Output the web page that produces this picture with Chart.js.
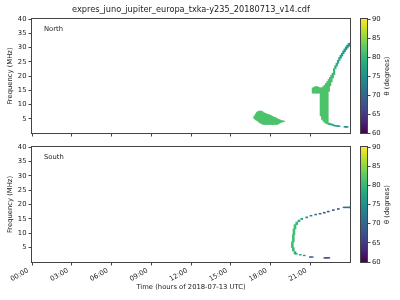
<!DOCTYPE html>
<html>
<head>
<meta charset="utf-8">
<script src="https://cdn.jsdelivr.net/npm/chart.js@4"></script>
<style>
  body { margin: 0; background: #fff; }
  #wrap { position: relative; width: 400px; height: 300px; }
  .box { position: absolute; }
</style>
</head>
<body>
<div id="wrap">
  <div class="box" style="left:0;top:0;width:352px;height:140px"><canvas id="north"></canvas></div>
  <div class="box" style="left:352px;top:0;width:48px;height:140px"><canvas id="northBar"></canvas></div>
  <div class="box" style="left:0;top:140px;width:352px;height:160px"><canvas id="south"></canvas></div>
  <div class="box" style="left:352px;top:140px;width:48px;height:160px"><canvas id="southBar"></canvas></div>
</div>
<script>
// axis ticks
const tickHours = [0, 3, 6, 9, 12, 15, 18, 21];
const tickLabels = ['00:00', '03:00', '06:00', '09:00', '12:00', '15:00', '18:00', '21:00'];
const freqTicks = [5, 10, 15, 20, 25, 30, 35, 40];
const thetaTicks = [60, 65, 70, 75, 80, 85, 90];

// North hemisphere emission: time column (h), freq range (MHz), theta (deg)
const northHour = [
  16.8, 16.9, 17.0, 17.1, 17.2, 17.3, 17.4, 17.5, 17.6, 17.7, 17.8, 17.9,
  18.0, 18.1, 18.2, 18.3, 18.4, 18.5, 18.6, 18.7, 18.8, 18.9, 19.0,
  21.2, 21.3, 21.4, 21.5, 21.6, 21.7, 21.8, 21.9, 22.0, 22.1, 22.2, 22.3,
  22.4, 22.4, 22.5, 22.5, 22.6, 22.6, 22.7, 22.7, 22.8, 22.8, 22.9, 22.9,
  23.0, 23.0, 23.1, 23.1, 23.2, 23.2,
  23.3, 23.4, 23.5, 23.6, 23.6, 23.7, 23.7, 23.8, 23.8, 23.9, 24.0];
const northLow = [
  5.0, 4.6, 4.4, 4.0, 3.6, 3.4, 3.1, 3.0, 3.0, 3.0, 3.0, 3.0,
  3.0, 3.0, 3.0, 3.0, 3.0, 3.05, 3.2, 3.6, 3.7, 3.9, 4.0,
  14.0, 14.0, 14.0, 14.0, 14.0, 14.0, 6.0, 4.8, 4.2, 3.7, 3.4, 3.2,
  14.6, 3.0, 16.6, 2.9, 17.9, 2.8, 19.3, 2.7, 20.5, 2.5, 22.6, 2.4,
  23.5, 2.4, 24.5, 2.3, 25.5, 2.3,
  26.3, 27.0, 27.8, 28.5, 2.0, 29.2, 2.0, 29.8, 2.0, 30.4, 30.9];
const northHigh = [
  6.0, 6.7, 7.3, 7.6, 7.7, 7.7, 7.4, 7.1, 6.9, 6.7, 6.5, 6.4,
  6.2, 5.9, 5.7, 5.5, 5.3, 5.0, 4.8, 4.6, 4.4, 4.3, 4.2,
  15.8, 16.0, 16.3, 16.3, 16.1, 15.9, 15.8, 15.9, 16.3, 16.8, 17.4, 18.1,
  18.8, 3.5, 19.5, 3.3, 20.3, 3.2, 21.0, 3.0, 22.6, 2.8, 23.6, 2.7,
  24.5, 2.6, 25.5, 2.6, 26.5, 2.5,
  27.3, 28.0, 28.8, 29.5, 2.3, 30.2, 2.3, 30.8, 2.3, 31.4, 31.6];
const northTheta = [
  81.5, 81.5, 81.5, 81.5, 81.5, 81.5, 81.5, 81.5, 81.5, 81.5, 81.5, 81.5,
  81.5, 81.5, 81.5, 81.5, 81.5, 81.5, 81.5, 81.5, 81.5, 81.5, 81.5,
  81.5, 81.5, 81.5, 81.5, 81.5, 81.5, 81.5, 81.5, 81.5, 81.5, 81.5, 81.5,
  81.5, 80, 81, 79, 81, 78, 80.5, 77.5, 80, 77, 79, 76.5,
  78.5, 76, 78, 76, 77.5, 75.5,
  77, 77, 76.5, 76, 75, 76, 75, 75.5, 75, 75, 75];

// South hemisphere emission
const southHour = [19.65, 19.72, 19.72, 19.77, 19.85, 19.85, 19.98, 19.95, 20.15, 20.25,
  20.36, 20.55, 20.73, 21.0, 21.15, 21.06, 21.41, 21.74, 22.06, 22.1, 22.25, 22.4,
  22.36, 22.74, 23.12, 23.55, 23.7, 23.85, 24.0];
const southLow = [5.0, 7.0, 3.8, 9.5, 11.5, 2.8, 13.0, 2.7, 14.0, 2.4,
  14.8, 2.15, 15.35, 1.6, 1.6, 15.95, 16.35, 16.65, 17.0, 1.3, 1.3, 1.3,
  17.4, 17.9, 18.3, 18.85, 18.85, 18.85, 18.85];
const southHigh = [7.0, 9.5, 5.0, 11.5, 13.0, 3.6, 13.9, 2.95, 14.6, 2.65,
  15.2, 2.4, 15.7, 1.85, 1.85, 16.25, 16.65, 16.95, 17.3, 1.55, 1.55, 1.55,
  17.7, 18.2, 18.6, 19.15, 19.15, 19.15, 19.15];
const southTheta = [81, 81, 80.5, 81, 80.5, 79, 80, 78, 79, 77,
  77, 76, 75, 69, 69, 73, 71, 69, 68, 64, 64, 64,
  67, 66, 66, 72, 72, 72, 72];

const viridis = ['#440154', '#482475', '#414487', '#355f8d', '#2a788e', '#21918c',
  '#22a884', '#44bf70', '#7ad151', '#bddf26', '#fde725'];

function hexRgb(h) {
    return [1, 3, 5].map(i => parseInt(h.substr(i, 2), 16));
}

function viridisColor(theta) {
    const t = Math.min(1, Math.max(0, (theta - 60) / 30)) * 10;
    const i = Math.min(9, Math.floor(t));
    const f = t - i;
    const a = hexRgb(viridis[i]), b = hexRgb(viridis[i + 1]);
    return 'rgb(' + a.map((v, k) => Math.round(v + (b[k] - v) * f)).join(',') + ')';
}

Chart.defaults.font.family = '"DejaVu Sans", sans-serif';
Chart.defaults.font.size = 6.8;
Chart.defaults.color = '#222';

const frameColor = '#444';

const panelDecor = {
    id: 'panelDecor',
    afterDraw(chart, args, opts) {
        const { ctx, chartArea: a } = chart;
        ctx.save();
        ctx.strokeStyle = frameColor;
        ctx.lineWidth = 1;
        ctx.strokeRect(Math.round(a.left) - 0.5, Math.round(a.top) - 0.5,
            Math.round(a.right - a.left) + 1, Math.round(a.bottom - a.top) + 1);
        if (opts.text) {
            ctx.fillStyle = '#222';
            ctx.font = '6.8px "DejaVu Sans"';
            ctx.textBaseline = 'middle';
            ctx.fillText(opts.text, a.left + 12, a.top + 10.5);
        }
        ctx.restore();
    }
};

const cbDecor = {
    id: 'cbDecor',
    afterDraw(chart) {
        const { ctx, chartArea: a } = chart;
        ctx.save();
        ctx.strokeStyle = frameColor;
        ctx.lineWidth = 1;
        ctx.strokeRect(Math.round(a.left) - 0.5, Math.round(a.top) - 0.5,
            Math.round(a.right - a.left) + 1, Math.round(a.bottom - a.top) + 1);
        ctx.translate(35, (a.top + a.bottom) / 2);
        ctx.rotate(-Math.PI / 2);
        ctx.textAlign = 'center';
        ctx.textBaseline = 'middle';
        ctx.fillStyle = '#222';
        ctx.font = '6.8px "DejaVu Sans"';
        ctx.fillText('θ (degrees)', 0, 0);
        ctx.restore();
    }
};

function makePanel(id, label, hours, lows, highs, thetas, barWidth, bottom) {
    const opts = {
        responsive: true,
        maintainAspectRatio: false,
        animation: false,
        layout: { padding: { left: 0, right: 2, top: bottom ? 7 : 0, bottom: 0 } },
        plugins: {
            legend: { display: false },
            tooltip: { enabled: false },
            title: {
                display: !bottom,
                text: 'expres_juno_jupiter_europa_txka-y235_20180713_v14.cdf',
                fullSize: false,
                font: { size: 8.2, weight: 'normal' },
                color: '#222',
                padding: { top: 5, bottom: 4.2 }
            },
            panelDecor: { text: label }
        },
        scales: {
            x: {
                type: 'linear',
                min: 0,
                max: 24,
                offset: false,
                afterBuildTicks: s => { s.ticks = tickHours.map(v => ({ value: v })); },
                afterFit: s => { s.height = bottom ? 38 : 7; },
                grid: { drawOnChartArea: false, offset: false, tickLength: 3.5, color: frameColor },
                border: { display: false },
                ticks: {
                    display: bottom,
                    autoSkip: false,
                    minRotation: 30,
                    maxRotation: 30,
                    padding: 1,
                    labelOffset: -4,
                    callback: v => tickLabels[tickHours.indexOf(v)]
                },
                title: {
                    display: bottom,
                    text: 'Time (hours of 2018-07-13 UTC)',
                    padding: { top: 0, bottom: 9 }
                }
            },
            y: {
                min: 0,
                max: 40,
                afterBuildTicks: s => { s.ticks = freqTicks.map(v => ({ value: v })); },
                afterFit: s => { s.width = 32; },
                grid: { drawOnChartArea: false, tickLength: 3.5, color: frameColor },
                border: { display: false },
                ticks: { padding: 2 },
                title: { display: true, text: 'Frequency (MHz)', padding: { top: 6, bottom: 0 } }
            }
        }
    };
    new Chart(document.getElementById(id), {
        type: 'bar',
        data: {
            datasets: [{
                data: hours.map((h, i) => ({ x: h, y: [lows[i], highs[i]] })),
                backgroundColor: thetas.map(viridisColor),
                borderWidth: 0,
                barThickness: barWidth,
                grouped: false
            }]
        },
        options: opts,
        plugins: [panelDecor]
    });
}

function makeColorbar(id, top, bottom) {
    new Chart(document.getElementById(id), {
        type: 'bar',
        data: {
            labels: ['θ'],
            datasets: [{
                data: [[thetaTicks[0], thetaTicks[thetaTicks.length - 1]]],
                backgroundColor: c => {
                    const a = c.chart.chartArea;
                    if (!a) return viridis[5];
                    const g = c.chart.ctx.createLinearGradient(0, a.bottom, 0, a.top);
                    viridis.forEach((col, i) => g.addColorStop(i / 10, col));
                    return g;
                },
                borderWidth: 0,
                barPercentage: 1,
                categoryPercentage: 1
            }]
        },
        options: {
            responsive: true,
            maintainAspectRatio: false,
            animation: false,
            layout: { padding: { left: 9, right: 0, top: top, bottom: bottom } },
            plugins: { legend: { display: false }, tooltip: { enabled: false } },
            scales: {
                x: { display: false },
                y: {
                    position: 'right',
                    min: 60,
                    max: 90,
                    afterBuildTicks: s => { s.ticks = thetaTicks.map(v => ({ value: v })); },
                    afterFit: s => { s.width = 33; },
                    grid: { drawOnChartArea: false, tickLength: 3.5, color: frameColor },
                    border: { display: false },
                    ticks: { padding: 1.5 }
                }
            }
        },
        plugins: [cbDecor]
    });
}

window.addEventListener('DOMContentLoaded', () => {
    makePanel('north', 'North', northHour, northLow, northHigh, northTheta, 1.6, false);
    makePanel('south', 'South', southHour, southLow, southHigh, southTheta, 2, true);
    makeColorbar('northBar', 19, 7);
    makeColorbar('southBar', 7, 38);
});
</script>
</body>
</html>
